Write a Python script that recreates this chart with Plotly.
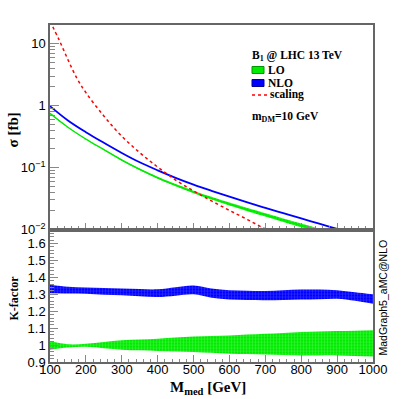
import plotly.graph_objects as go

# ---------------- data ----------------
mass = [100, 150, 200, 250, 300, 350, 400, 450, 500, 550,
        600, 650, 700, 750, 800, 850, 900, 950, 1000]

xsec_nlo = [0.98, 0.575, 0.372, 0.251, 0.172, 0.1216, 0.0902, 0.0684, 0.0531, 0.0422,
            0.0339, 0.0275, 0.0224, 0.0184, 0.0151, 0.01245, 0.01023, 0.0084, 0.0069]

xsec_lo = [0.75, 0.447, 0.288, 0.195, 0.132, 0.0933, 0.0684, 0.0519, 0.0403, 0.032,
           0.0257, 0.0209, 0.0172, 0.0141, 0.0116, 0.00955, 0.00785, 0.00646, 0.00537]

xsec_lo_low = [0.729, 0.4407, 0.2851, 0.1915, 0.1284, 0.0904, 0.0660, 0.0499, 0.0386, 0.0305,
               0.0244, 0.0198, 0.01625, 0.01328, 0.01089, 0.00897, 0.00737, 0.00605, 0.00501]
xsec_lo_high = [0.768, 0.4492, 0.2903, 0.1985, 0.1357, 0.0964, 0.0710, 0.0542, 0.0424, 0.0337,
                0.0272, 0.0222, 0.01835, 0.01512, 0.01249, 0.01031, 0.00850, 0.00701, 0.00584]

scaling_mass = [100, 125, 150, 175, 200, 250, 300, 350, 400, 450,
                500, 550, 600, 650, 700, 750]
xsec_scaling = [23, 11.6, 5.5, 2.75, 1.62, 0.68, 0.32, 0.174, 0.102, 0.063,
                0.042, 0.029, 0.0204, 0.0145, 0.0102, 0.0072]

k_lo_low = [0.972, 0.986, 0.990, 0.982, 0.973, 0.969, 0.965, 0.962, 0.959, 0.954,
            0.949, 0.947, 0.945, 0.942, 0.939, 0.939, 0.939, 0.936, 0.933]
k_lo_high = [1.024, 1.005, 1.008, 1.018, 1.028, 1.033, 1.038, 1.045, 1.051, 1.054,
             1.057, 1.062, 1.067, 1.072, 1.077, 1.080, 1.083, 1.085, 1.087]

k_nlo_low = [1.306, 1.305, 1.304, 1.298, 1.294, 1.288, 1.284, 1.292, 1.300, 1.280,
             1.269, 1.266, 1.265, 1.267, 1.269, 1.271, 1.274, 1.262, 1.245]
k_nlo_high = [1.357, 1.345, 1.340, 1.337, 1.334, 1.331, 1.330, 1.342, 1.352, 1.334,
              1.324, 1.321, 1.320, 1.324, 1.328, 1.328, 1.324, 1.312, 1.300]

x_ticks = [100, 200, 300, 400, 500, 600, 700, 800, 900, 1000]
y_top_ticks = [0.01, 0.1, 1, 10]
y_top_labels = ["10<sup>−2</sup>", "10<sup>−1</sup>", "1", "10"]
y_bot_ticks = [0.9, 1.0, 1.1, 1.2, 1.3, 1.4, 1.5, 1.6]
y_bot_labels = ["0.9", "1", "1.1", "1.2", "1.3", "1.4", "1.5", "1.6"]

# ---------------- styling ----------------
W, H = 415, 399
ML, MR, MT, MB = 50, 42, 25, 37
GREEN = "rgb(0,235,0)"
GREEN_L = "rgb(140,255,140)"
BLUE = "rgb(0,0,255)"
BLUE_L = "rgb(120,120,255)"
RED = "rgb(255,0,0)"
AXC = "#666666"
TICKC = "#888888"
SANS = "Liberation Sans, Arial, sans-serif"
SERIF = "Liberation Serif, Times New Roman, serif"


def px(x):
    return (x - ML) / (W - ML - MR)


def py(y):
    return (H - MB - y) / (H - MT - MB)


fig = go.Figure()

# top panel
fig.add_trace(go.Scatter(x=mass, y=xsec_lo_low, xaxis="x", yaxis="y", mode="lines",
                         line=dict(width=0, color=GREEN, shape="spline"), showlegend=False,
                         hoverinfo="skip"))
fig.add_trace(go.Scatter(x=mass, y=xsec_lo_high, xaxis="x", yaxis="y", mode="lines",
                         line=dict(width=0, color=GREEN, shape="spline"), fill="tonexty",
                         fillcolor=GREEN,
                         fillpattern=dict(shape="+", bgcolor=GREEN, fgcolor=GREEN_L, size=3, solidity=0.3),
                         showlegend=False))
fig.add_trace(go.Scatter(x=mass, y=xsec_lo, xaxis="x", yaxis="y", mode="lines",
                         line=dict(width=1.3, color=GREEN, shape="spline"), name="LO", showlegend=False))
fig.add_trace(go.Scatter(x=mass, y=xsec_nlo, xaxis="x", yaxis="y", mode="lines",
                         line=dict(width=1.8, color=BLUE, shape="spline"), name="NLO", showlegend=False))
fig.add_trace(go.Scatter(x=scaling_mass, y=xsec_scaling, xaxis="x", yaxis="y", mode="lines",
                         line=dict(width=1.5, color=RED, dash="dot", shape="spline"), name="scaling",
                         showlegend=False))

# bottom panel
fig.add_trace(go.Scatter(x=mass, y=k_lo_low, xaxis="x2", yaxis="y2", mode="lines",
                         line=dict(width=0, color=GREEN, shape="spline"), showlegend=False))
fig.add_trace(go.Scatter(x=mass, y=k_lo_high, xaxis="x2", yaxis="y2", mode="lines",
                         line=dict(width=0, color=GREEN, shape="spline"), fill="tonexty",
                         fillcolor=GREEN,
                         fillpattern=dict(shape="+", bgcolor=GREEN, fgcolor=GREEN_L, size=3, solidity=0.3),
                         showlegend=False))
fig.add_trace(go.Scatter(x=mass, y=k_nlo_low, xaxis="x2", yaxis="y2", mode="lines",
                         line=dict(width=0, color=BLUE, shape="spline"), showlegend=False))
fig.add_trace(go.Scatter(x=mass, y=k_nlo_high, xaxis="x2", yaxis="y2", mode="lines",
                         line=dict(width=0, color=BLUE, shape="spline"), fill="tonexty",
                         fillcolor=BLUE,
                         fillpattern=dict(shape="+", bgcolor=BLUE, fgcolor=BLUE_L, size=3, solidity=0.3),
                         showlegend=False))

tickfont = dict(family=SANS, size=13, color="black")
common_axis = dict(showline=True, mirror=True, linecolor=AXC, linewidth=1.5,
                   showgrid=False, zeroline=False, tickcolor=TICKC, ticks="inside")

split = 0.393
fig.update_layout(
    width=W, height=H,
    margin=dict(l=ML, r=MR, t=MT, b=MB, pad=0),
    paper_bgcolor="white", plot_bgcolor="white",
    showlegend=False,
    xaxis=dict(domain=[0, 1], anchor="y", range=[100, 1000], tickmode="array", tickvals=x_ticks,
               showticklabels=False, ticklen=7,
               minor=dict(ticks="inside", ticklen=3.5, dtick=20, tick0=0, tickcolor=TICKC),
               **common_axis),
    yaxis=dict(domain=[split, 1], anchor="x", type="log", range=[-2, 1.30],
               tickmode="array", tickvals=y_top_ticks, ticktext=y_top_labels, ticklen=9,
               tickfont=tickfont,
               minor=dict(ticks="inside", ticklen=5, dtick="D1", tickcolor=TICKC),
               **common_axis),
    xaxis2=dict(domain=[0, 1], anchor="y2", range=[100, 1000], tickmode="array", tickvals=x_ticks,
                ticklen=7, tickfont=tickfont, ticklabelstandoff=-5,
                minor=dict(ticks="inside", ticklen=3.5, dtick=20, tick0=0, tickcolor=TICKC),
                **common_axis),
    yaxis2=dict(domain=[0, split], anchor="x2", range=[0.9, 1.683],
                tickmode="array", tickvals=y_bot_ticks, ticktext=y_bot_labels, ticklen=8,
                tickfont=tickfont,
                minor=dict(ticks="inside", ticklen=4, dtick=0.02, tick0=0.9, tickcolor=TICKC),
                **common_axis),
)

ann = []
# axis titles
ann.append(dict(x=px(12.5), y=py(130), xref="paper", yref="paper", text="<b>σ [fb]</b>",
                textangle=-90, showarrow=False, font=dict(family=SERIF, size=15, color="black"),
                xanchor="center", yanchor="middle"))
ann.append(dict(x=px(13.5), y=py(298), xref="paper", yref="paper", text="<b>K-factor</b>",
                textangle=-90, showarrow=False, font=dict(family=SERIF, size=12, color="black"),
                xanchor="center", yanchor="middle"))
ann.append(dict(x=px(208), y=py(388), xref="paper", yref="paper",
                text="<b>M<sub>med</sub> [GeV]</b>", showarrow=False,
                font=dict(family=SERIF, size=15, color="black"), xanchor="center", yanchor="middle"))
ann.append(dict(x=px(382.5), y=py(297), xref="paper", yref="paper", text="MadGraph5_aMC@NLO",
                textangle=-90, showarrow=False, font=dict(family=SANS, size=10.5, color="black"),
                xanchor="center", yanchor="middle"))
# legend texts
legfont = dict(family=SERIF, size=11.5, color="black")
ann.append(dict(x=px(250), y=py(56), xref="paper", yref="paper",
                text="<b>B<sub>1</sub> @ LHC 13 TeV</b>", showarrow=False, font=legfont,
                xanchor="left", yanchor="middle"))
ann.append(dict(x=px(266), y=py(70), xref="paper", yref="paper", text="<b>LO</b>",
                showarrow=False, font=legfont, xanchor="left", yanchor="middle"))
ann.append(dict(x=px(266), y=py(83), xref="paper", yref="paper", text="<b>NLO</b>",
                showarrow=False, font=legfont, xanchor="left", yanchor="middle"))
ann.append(dict(x=px(268), y=py(95), xref="paper", yref="paper", text="<b>scaling</b>",
                showarrow=False, font=legfont, xanchor="left", yanchor="middle"))
ann.append(dict(x=px(250), y=py(117), xref="paper", yref="paper",
                text="<b>m<sub>DM</sub>=10 GeV</b>", showarrow=False, font=legfont,
                xanchor="left", yanchor="middle"))
fig.update_layout(annotations=ann)

shapes = [
    dict(type="rect", xref="paper", yref="paper", x0=px(252), x1=px(264), y0=py(73.5), y1=py(66.5),
         fillcolor=GREEN, line=dict(color="rgb(0,150,0)", width=1)),
    dict(type="rect", xref="paper", yref="paper", x0=px(252), x1=px(264), y0=py(86.5), y1=py(79.5),
         fillcolor=BLUE, line=dict(color="rgb(0,0,150)", width=1)),
    dict(type="line", xref="paper", yref="paper", x0=px(252), x1=px(267), y0=py(95), y1=py(95),
         line=dict(color=RED, width=1.5, dash="dot")),
]
fig.update_layout(shapes=shapes)

fig.write_html("out.html", config={"displayModeBar": False},
               post_script="document.body.style.margin='0';document.body.style.overflow='hidden';")
